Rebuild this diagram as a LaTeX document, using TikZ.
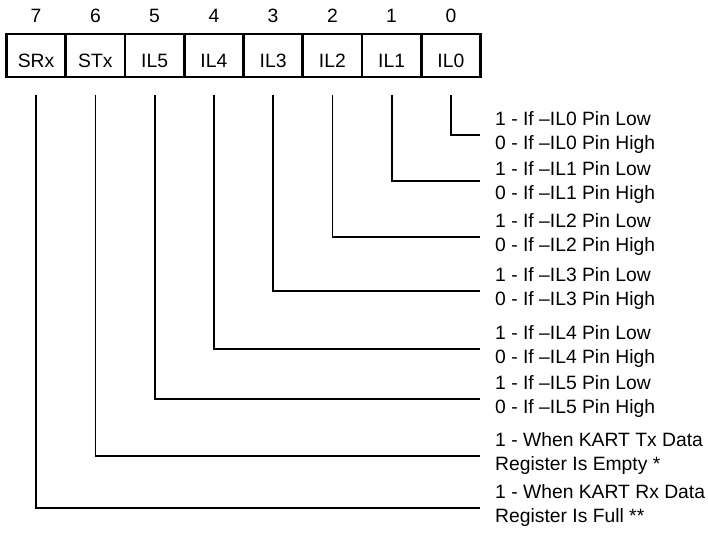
\documentclass[tikz,border=0pt]{standalone}
\usepackage{fontspec}
\setmainfont{Liberation Sans}
\usepackage{tikz}

\begin{document}
\begin{tikzpicture}[x=1bp,y=-1bp,
  every node/.style={font=\fontsize{19.3bp}{24bp}\selectfont},
  cell/.style={draw,line width=2.8bp,minimum width=59.25bp,minimum height=43bp,inner sep=0pt,outer sep=0pt,text height=24bp,text depth=0pt},
  bitno/.style={inner sep=0pt},
  desc/.style={anchor=west,align=left,inner xsep=15bp,inner ysep=0pt},
  wire/.style={line width=1.8bp}]
\useasboundingbox (0,0) rectangle (708,534);
% register cells
\node[cell] (c7) at (36.1,55.5) {SRx};
\node[cell] (c6) at (95.4,55.5) {STx};
\node[cell] (c5) at (154.6,55.5) {IL5};
\node[cell] (c4) at (213.9,55.5) {IL4};
\node[cell] (c3) at (273.1,55.5) {IL3};
\node[cell] (c2) at (332.4,55.5) {IL2};
\node[cell] (c1) at (391.6,55.5) {IL1};
\node[cell] (c0) at (450.9,55.5) {IL0};
% bit numbers
\node[bitno] (n7) at (36.1,16) {7};
\node[bitno] (n6) at (95.4,16) {6};
\node[bitno] (n5) at (154.6,16) {5};
\node[bitno] (n4) at (213.9,16) {4};
\node[bitno] (n3) at (273.1,16) {3};
\node[bitno] (n2) at (332.4,16) {2};
\node[bitno] (n1) at (391.6,16) {1};
\node[bitno] (n0) at (450.9,16) {0};
% bit descriptions
\node[desc] (d0) at (480,133) {1 - If –IL0 Pin Low\\0 - If –IL0 Pin High};
\node[desc] (d1) at (480,183) {1 - If –IL1 Pin Low\\0 - If –IL1 Pin High};
\node[desc] (d2) at (480,235) {1 - If –IL2 Pin Low\\0 - If –IL2 Pin High};
\node[desc] (d3) at (480,289) {1 - If –IL3 Pin Low\\0 - If –IL3 Pin High};
\node[desc] (d4) at (480,347) {1 - If –IL4 Pin Low\\0 - If –IL4 Pin High};
\node[desc] (d5) at (480,397) {1 - If –IL5 Pin Low\\0 - If –IL5 Pin High};
\node[desc] (d6) at (480,454) {1 - When KART Tx Data\\Register Is Empty *};
\node[desc] (d7) at (480,506) {1 - When KART Rx Data\\Register Is Full **};
% leader lines
\draw[wire] ([yshift=-18bp]c0.south) |- ([yshift=-2bp]d0.west);
\draw[wire] ([yshift=-18bp]c1.south) |- ([yshift=2bp]d1.west);
\draw[wire] ([yshift=-18bp]c2.south) |- ([yshift=-2bp]d2.west);
\draw[wire] ([yshift=-18bp]c3.south) |- ([yshift=-2bp]d3.west);
\draw[wire] ([yshift=-18bp]c4.south) |- ([yshift=-2bp]d4.west);
\draw[wire] ([yshift=-18bp]c5.south) |- ([yshift=-2bp]d5.west);
\draw[wire] ([yshift=-18bp]c6.south) |- ([yshift=-2bp]d6.west);
\draw[wire] ([yshift=-18bp]c7.south) |- ([yshift=-2bp]d7.west);
\end{tikzpicture}
\end{document}
